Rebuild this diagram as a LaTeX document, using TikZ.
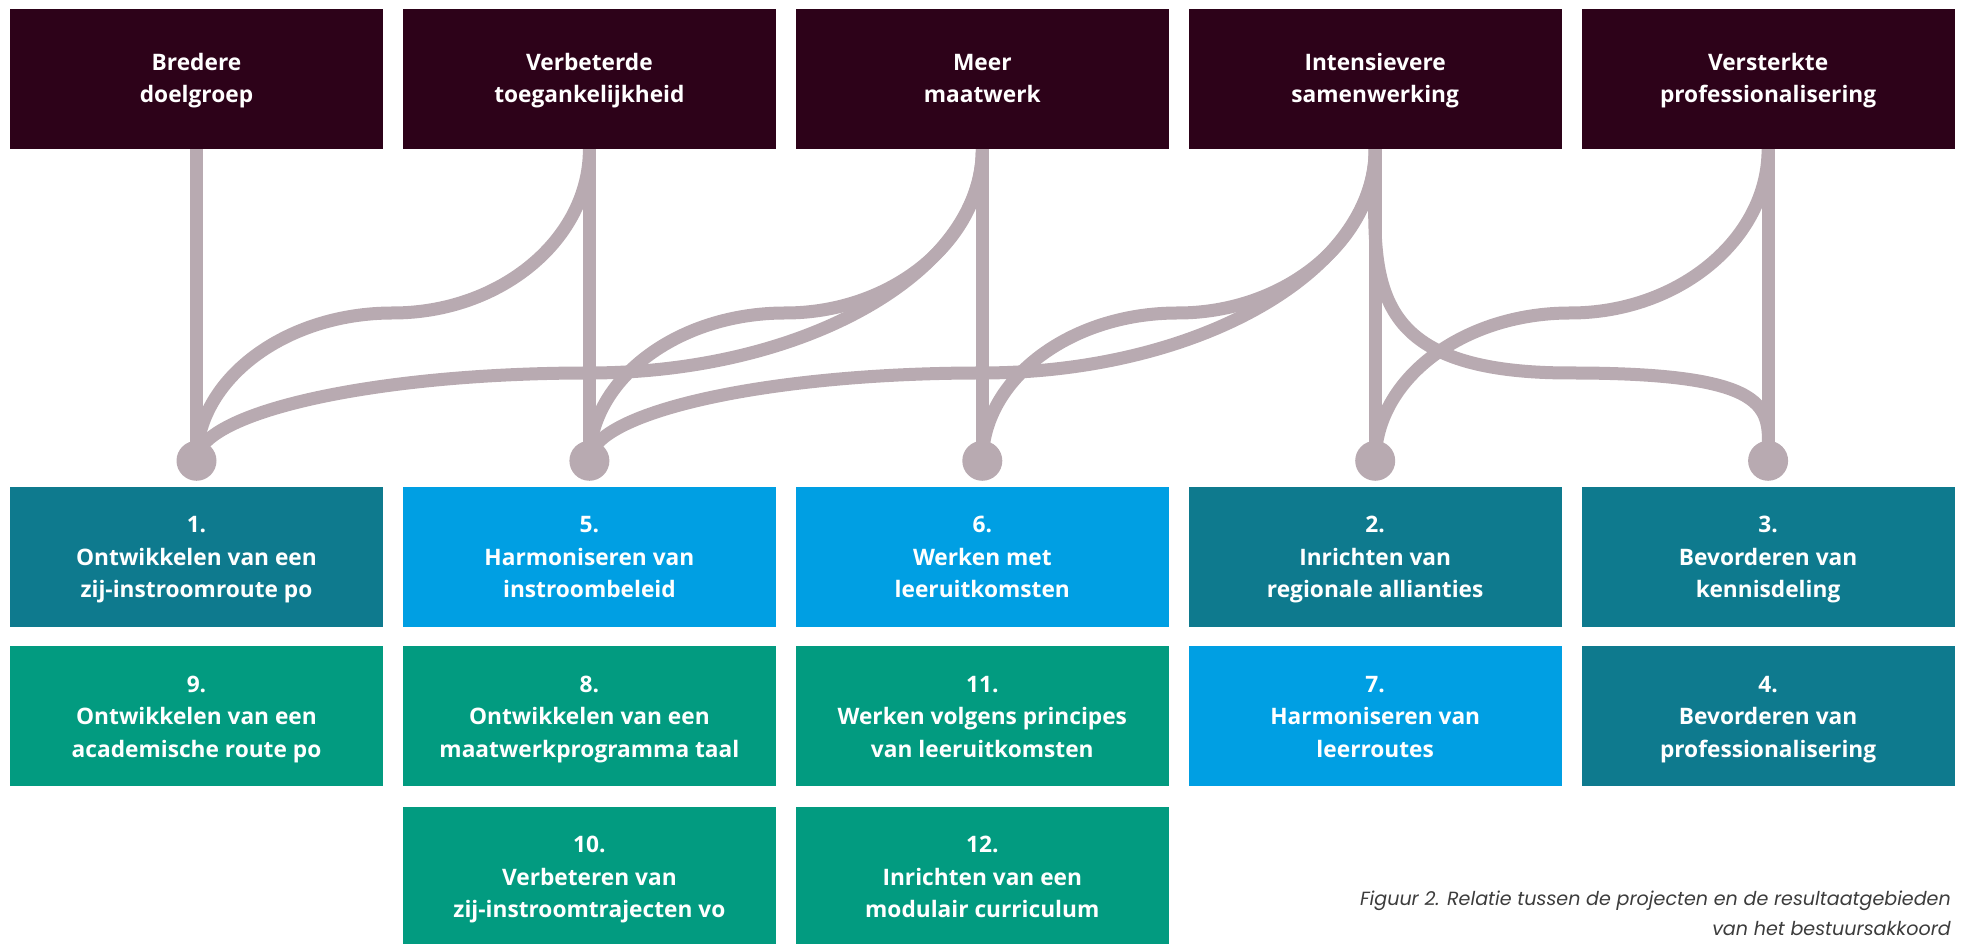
\documentclass[tikz,border=0pt]{standalone}
\usepackage{fontspec}
\setmainfont{Open Sans}
\newfontfamily\capfont{Poppins}
\usetikzlibrary{positioning,backgrounds}
\definecolor{goalbg}{HTML}{2D0219}
\definecolor{linkc}{HTML}{B8AAB1}
\definecolor{tealbg}{HTML}{0E7A8E}
\definecolor{bluebg}{HTML}{009FE3}
\definecolor{greenbg}{HTML}{029B80}
\definecolor{capgray}{HTML}{3C3C3C}
\begin{document}
\begin{tikzpicture}[x=1pt,y=1pt,
  box/.style={minimum width=373pt,minimum height=140pt,inner sep=0pt,align=center,text=white,
    font=\fontsize{22.7}{32.5}\selectfont\bfseries,text height=82pt,text depth=0pt},
  goal/.style={box,fill=goalbg,text height=48pt},
  teal/.style={box,fill=tealbg},
  blue/.style={box,fill=bluebg},
  green/.style={box,fill=greenbg},
  link/.style={draw=linkc,line width=13pt},
  hub/.style={circle,fill=linkc,minimum size=40pt,inner sep=0pt}]
\useasboundingbox (0,0) rectangle (1963,944);
% resultaatgebieden
\node[goal] (g1) at (196.5,865) {Bredere\\doelgroep};
\node[goal,right=19.5pt of g1] (g2) {Verbeterde\\toegankelijkheid};
\node[goal,right=19.5pt of g2] (g3) {Meer\\maatwerk};
\node[goal,right=19.5pt of g3] (g4) {Intensievere\\samenwerking};
\node[goal,right=19.5pt of g4] (g5) {Versterkte\\professionalisering};
% projecten
\node[teal] (p1) at (196.5,387) {1.\\Ontwikkelen van een\\zij-instroomroute po};
\node[blue,right=19.5pt of p1] (p5) {5.\\Harmoniseren van\\instroombeleid};
\node[blue,right=19.5pt of p5] (p6) {6.\\Werken met\\leeruitkomsten};
\node[teal,right=19.5pt of p6] (p2) {2.\\Inrichten van\\regionale allianties};
\node[teal,right=19.5pt of p2] (p3) {3.\\Bevorderen van\\kennisdeling};
\node[green,below=19pt of p1] (p9) {9.\\Ontwikkelen van een\\academische route po};
\node[green,below=19pt of p5] (p8) {8.\\Ontwikkelen van een\\maatwerkprogramma taal};
\node[green,below=19pt of p6] (p11) {11.\\Werken volgens principes\\van leeruitkomsten};
\node[blue,below=19pt of p2] (p7) {7.\\Harmoniseren van\\leerroutes};
\node[teal,below=19pt of p3] (p4) {4.\\Bevorderen van\\professionalisering};
\node[green,below=20pt of p8] (p10) {10.\\Verbeteren van\\zij-instroomtrajecten vo};
\node[green,below=20pt of p11] (p12) {12.\\Inrichten van een\\modulair curriculum};
% knooppunten
\foreach \i/\p in {1/p1,2/p5,3/p6,4/p2,5/p3}
  \node[hub] (hub\i) at ([yshift=26pt]\p.north) {};
\begin{scope}[on background layer]
\foreach \i in {1,...,5}\draw[link] (g\i.south)--(hub\i.center);
% korte bochten
\foreach \a/\b/\mx in {2/1/392.75,3/2/785.25,4/3/1177.75,5/4/1570.25}{
  \coordinate (m\a\b) at (\mx,631);
  \draw[link] (g\a.south) .. controls +(-90:90) and +(0:108) ..
    (m\a\b) .. controls +(180:108) and +(90:81) .. (hub\b.center);
}
% lange bochten
\foreach \a/\b/\mx in {3/1/589,4/2/981.5}{
  \coordinate (m\a\b) at (\mx,571);
  \draw[link] (g\a.south) .. controls +(-90:123) and +(0:216) ..
    (m\a\b) .. controls +(180:216) and +(90:48) .. (hub\b.center);
}
\coordinate (m45) at (1570.25,571);
\draw[link] (g4.south) .. controls +(-90:123) and +(180:216) ..
  (m45) .. controls +(0:216) and +(90:48) .. (hub5.center);
\end{scope}
\node[anchor=north east,align=right,inner sep=0pt,text=capgray,
  font=\capfont\itshape\fontsize{19.1}{30}\selectfont] (cap) at (1951,53)
  {Figuur 2. Relatie tussen de projecten en de resultaatgebieden\\van het bestuursakkoord};
\end{tikzpicture}
\end{document}
